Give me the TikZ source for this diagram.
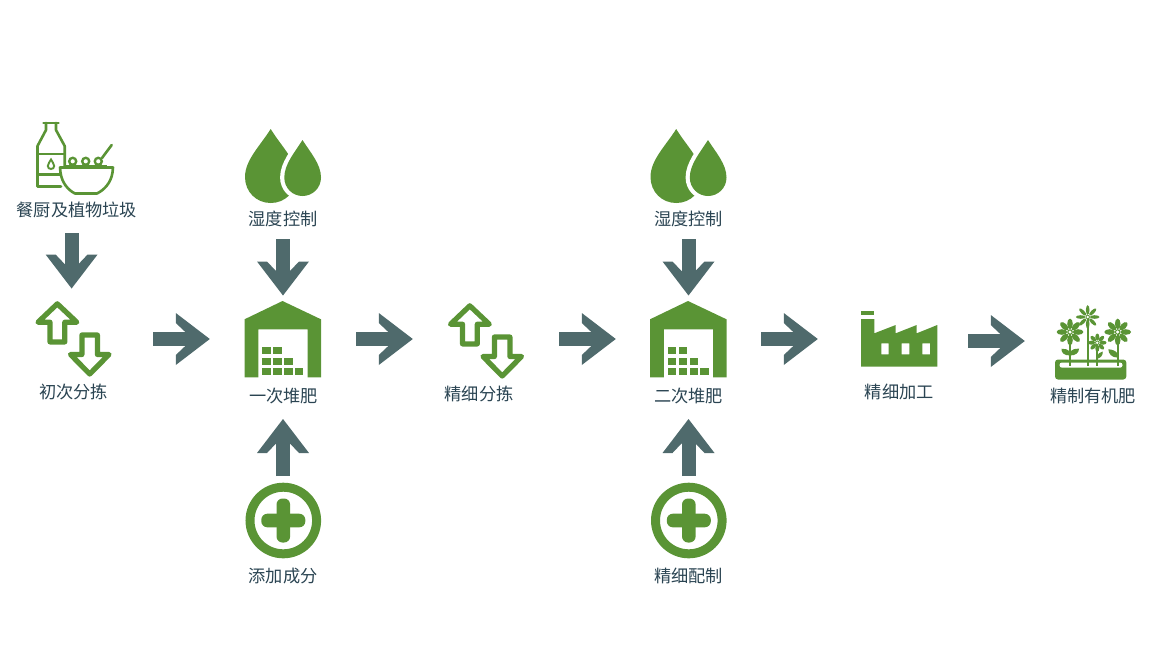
\documentclass[tikz,border=0pt]{standalone}
\usepackage{fontspec}
\setmainfont{Noto Sans CJK SC}
\definecolor{leaf}{HTML}{5A9435}
\definecolor{slate}{HTML}{4F6A6C}
\definecolor{ink}{HTML}{2A4452}
\pgfdeclarearrow{
  name=BlockHead,
  setup code={
    \pgfarrowssettipend{0pt}
    \pgfarrowssetlineend{-20pt}
    \pgfarrowssetbackend{-34pt}
    \pgfarrowssetvisualbackend{-20pt}
    \pgfarrowshullpoint{0pt}{0pt}
    \pgfarrowshullpoint{-34pt}{26pt}
    \pgfarrowshullpoint{-34pt}{-26pt}
  },
  drawing code={
    \pgfpathmoveto{\pgfpoint{0pt}{0pt}}
    \pgfpathlineto{\pgfpoint{-34pt}{26pt}}
    \pgfpathlineto{\pgfpoint{-34pt}{16pt}}
    \pgfpathlineto{\pgfpoint{-24.5pt}{7pt}}
    \pgfpathlineto{\pgfpoint{-24.5pt}{-7pt}}
    \pgfpathlineto{\pgfpoint{-34pt}{-16pt}}
    \pgfpathlineto{\pgfpoint{-34pt}{-26pt}}
    \pgfpathclose
    \pgfusepathqfill
  },
  defaults={}
}
\tikzset{
  lbl/.style={text=ink,font=\fontsize{17.2}{20}\selectfont,inner sep=0pt},
  flowarrow/.style={draw=slate,line width=14pt,-BlockHead},
  icon/.style={fill=leaf,draw=none},
  sortline/.style={draw=leaf,fill=white,line width=5.2pt,line join=round},
  bottleline/.style={draw=leaf,line width=2.6pt,line join=round,line cap=round}
}
\newcommand{\sorticon}[2]{%
  \begin{scope}[shift={(#1,#2)}]
    \draw[sortline] (57.3,303.8) -- (76.8,322.2) -- (64.8,322.2) -- (64.8,341.9) -- (50,341.9) -- (50,322.2) -- (38,322.2) -- cycle;
    \draw[sortline] (89.7,374) -- (70.5,354.5) -- (81.9,354.5) -- (81.9,335) -- (97.4,335) -- (97.4,354.5) -- (109,354.5) -- cycle;
  \end{scope}}
\newcommand{\barn}[1]{%
  \begin{scope}[shift={(#1,0)}]
    \fill[icon] (282.5,301) -- (321,319.3) -- (321,377.3) -- (307.7,377.3) -- (307.7,329.3) -- (258.3,329.3) -- (258.3,377.3) -- (244.5,377.3) -- (244.5,319.3) -- cycle;
    \foreach \xa/\ya in {262.3/347.3,273/347.3,262.3/358,273/358,284/358,262.3/368.3,273/368.3,284/368.3,294.7/368.3}
      \fill[icon] (\xa,\ya) rectangle ++(8.6,7);
  \end{scope}}
\newcommand{\drops}[1]{%
  \begin{scope}[shift={(#1,0)}]
    \fill[icon] (270.7,129) .. controls (260,146) and (245,160) .. (245,177) .. controls (245,192) and (256.5,203) .. (270.7,203) .. controls (285,203) and (296.5,192) .. (296.5,177) .. controls (296.5,160) and (281,146) .. (270.7,129) -- cycle;
    \filldraw[fill=leaf,draw=white,line width=8.4pt] (302.5,140) .. controls (295,152) and (284.3,164) .. (284.3,177.5) .. controls (284.3,188) and (292.5,196) .. (302.5,196) .. controls (312.5,196) and (321,188) .. (321,177.5) .. controls (321,164) and (310,152) .. (302.5,140) -- cycle;
    \fill[icon] (302.5,140) .. controls (295,152) and (284.3,164) .. (284.3,177.5) .. controls (284.3,188) and (292.5,196) .. (302.5,196) .. controls (312.5,196) and (321,188) .. (321,177.5) .. controls (321,164) and (310,152) .. (302.5,140) -- cycle;
  \end{scope}}
\newcommand{\plusicon}[1]{%
  \begin{scope}[shift={(#1,520.5)}]
    \draw[leaf,line width=9pt] (0,0) circle (33.3);
    \fill[icon,rounded corners=6pt] (-6.8,-22) rectangle (6.8,22);
    \fill[icon,rounded corners=6pt] (-22,-6.8) rectangle (22,6.8);
  \end{scope}}
\newcommand{\gflower}[6]{% x y radius petals petalwidth core
  \begin{scope}[shift={(#1,#2)}]
    \foreach \k in {1,...,#4} {
      \pgfmathsetmacro{\an}{360*\k/#4}
      \fill[icon,rotate=\an] ({(#3+#6)/2},0) ellipse ({(#3-#6)/2} and #5);
    }
    \fill[leaf] (0,0) circle (#6);
    \fill[white] (0,0) circle (#6*0.62);
  \end{scope}}
\begin{document}
\begin{tikzpicture}[x=1pt,y=-1pt]
\useasboundingbox (0,0) rectangle (1153,649);
% bottle and bowl
\draw[bottleline] (43.5,123) -- (58.5,123);
\draw[bottleline] (46,123) -- (46,130) -- (37.5,146) -- (37.5,186.5) -- (61,186.5);
\draw[bottleline] (56,123) -- (56,130) -- (64.7,146) -- (64.7,166);
\draw[bottleline] (37.5,154) -- (64.7,154);
\draw[bottleline] (37.5,174.7) -- (60,174.7);
\filldraw[draw=leaf,fill=white,line width=1.9pt] (51,159.5) .. controls (50,162) and (47.8,163.5) .. (47.8,166) .. controls (47.8,167.8) and (49.2,169) .. (51,169) .. controls (52.8,169) and (54.2,167.8) .. (54.2,166) .. controls (54.2,163.5) and (52,162) .. (51,159.5) -- cycle;
\filldraw[bottleline,fill=white] (60,167.5) -- (113,167.5) -- (112.5,172.5) .. controls (111,183) and (104,190) .. (97,193.5) -- (75,193.5) .. controls (68,190) and (62,183) .. (60.5,172.5) -- cycle;
\foreach \px in {72.7,85.7,98.3} \draw[leaf,line width=2.4pt] (\px,161.3) circle (3.5);
\draw[leaf,line width=2.4pt] (66,166) -- (107,166);
\draw[leaf,line width=2.6pt,line cap=round] (102,158) -- (111.7,145);
% sort icons
\sorticon{0}{0}
\sorticon{412.5}{2}
% barns, drops, plus
\barn{0}
\barn{405.5}
\drops{0}
\drops{405.5}
\plusicon{283.3}
\plusicon{688.8}
% factory
\fill[icon] (861,310.7) rectangle (874.3,315.3);
\fill[icon,even odd rule] (861,319) -- (874.3,319) -- (874.3,333.3) -- (895.7,325) -- (895.7,333.3) -- (916.7,325) -- (916.7,333.3) -- (937.3,325) -- (937.3,366.7) -- (861,366.7) -- cycle
  (881.3,343.3) rectangle (888.7,354.3)
  (901.7,343.3) rectangle (909.3,354.3)
  (922.3,343.3) rectangle (930,354.3);
% planter
\fill[icon,rounded corners=3pt] (1055,359.5) rectangle (1126.3,379.5);
\fill[white,rounded corners=2.5pt] (1059.5,362.5) rectangle (1122.5,367.7);
% flowers
\draw[leaf,line width=2.3pt] (1070,332) -- (1070,365.5);
\draw[leaf,line width=2.3pt] (1087.7,317) -- (1087.7,365.5);
\draw[leaf,line width=2.3pt] (1097.3,343) -- (1097.3,365.5);
\draw[leaf,line width=2.3pt] (1117.7,332) -- (1117.7,365.5);
\fill[icon] (1070,355.5) .. controls (1064,355.5) and (1061,352.5) .. (1061.5,348.7) .. controls (1065,348.5) and (1068,349.5) .. (1070,351.5) .. controls (1072,349.5) and (1075,348.5) .. (1079,348.7) .. controls (1079,352.5) and (1076,355.5) .. (1070,355.5) -- cycle;
\fill[icon] (1117,357.5) .. controls (1112,357.5) and (1108.5,354) .. (1108.3,349.3) .. controls (1112,349.3) and (1116,351) .. (1117,353) -- cycle;
\fill[icon] (1097.3,358.7) .. controls (1100.5,358) and (1103,355.5) .. (1102.8,351.5) .. controls (1100,352) and (1097.3,354) .. (1097.3,356) -- cycle;
\gflower{1070}{332}{13.4}{8}{2.8}{2.8}
\gflower{1087.7}{317}{11.8}{8}{1.8}{2.2}
\gflower{1097.3}{342.7}{9.2}{8}{2}{2.2}
\gflower{1117.7}{332}{13.4}{8}{2.8}{2.8}
% labels
\node[lbl] (foodwaste) at (77,210) {餐厨及植物垃圾};
\node[lbl] (sortone) at (73.5,392) {初次分拣};
\node[lbl] (moistone) at (283,218.5) {湿度控制};
\node[lbl] (pileone) at (283.5,396) {一次堆肥};
\node[lbl] (addin) at (283,576) {添加成分};
\node[lbl] (sorttwo) at (479,394) {精细分拣};
\node[lbl] (moisttwo) at (688.5,218.5) {湿度控制};
\node[lbl] (piletwo) at (688.5,396) {二次堆肥};
\node[lbl] (blend) at (688.5,576) {精细配制};
\node[lbl] (process) at (899.3,392) {精细加工};
\node[lbl] (product) at (1093,396) {精制有机肥};
% connector ends
\coordinate (a1s) at (71.6,233); \coordinate (a1e) at (71.6,288.5);
\coordinate (a2s) at (153,339); \coordinate (a2e) at (209.8,339);
\coordinate (a3s) at (283,239); \coordinate (a3e) at (283,295.5);
\coordinate (a4s) at (283,476); \coordinate (a4e) at (283,419);
\coordinate (a5s) at (356,339); \coordinate (a5e) at (412.8,339);
\coordinate (a6s) at (559,339); \coordinate (a6e) at (615.8,339);
\coordinate (a7s) at (688.5,239); \coordinate (a7e) at (688.5,295.5);
\coordinate (a8s) at (688.5,476); \coordinate (a8e) at (688.5,419);
\coordinate (a9s) at (761,339); \coordinate (a9e) at (817.8,339);
\coordinate (a10s) at (968,341); \coordinate (a10e) at (1024.8,341);
\foreach \n in {1,...,10} \draw[flowarrow] (a\n s) -- (a\n e);
\end{tikzpicture}
\end{document}
